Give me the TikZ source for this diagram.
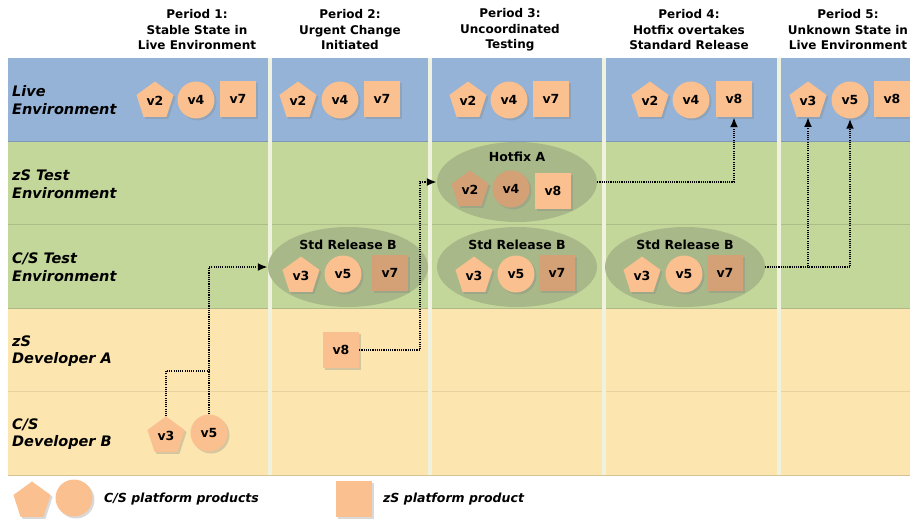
\documentclass[tikz,border=0pt]{standalone}
\usepackage{fontspec}
\setsansfont{DejaVu Sans}
\usetikzlibrary{arrows.meta,shapes.geometric,shadows}

\definecolor{liveblue}{RGB}{149,179,215}
\definecolor{testgreen}{RGB}{196,215,155}
\definecolor{devyellow}{RGB}{252,229,174}
\definecolor{sepcream}{RGB}{238,242,222}
\definecolor{peach}{RGB}{250,192,144}
\definecolor{oldpeach}{RGB}{212,161,118}
\definecolor{relgreen}{RGB}{168,184,137}

\tikzset{
  header/.style={font=\sffamily\bfseries\fontsize{12}{15.5}\selectfont, align=center},
  rowlabel/.style={font=\sffamily\bfseries\itshape\fontsize{14.5}{17.5}\selectfont, align=left, anchor=west, inner sep=0pt},
  prod/.style={fill=peach, inner sep=0pt, font=\sffamily\bfseries\fontsize{12.5}{14}\selectfont,
    drop shadow={opacity=0.3, shadow xshift=2pt, shadow yshift=-2pt}},
  pent/.style={prod, regular polygon, regular polygon sides=5, minimum size=39pt},
  circ/.style={prod, circle, minimum size=37pt},
  sqr/.style={prod, rectangle, minimum size=36pt},
  aged/.style={fill=oldpeach},
  release/.style={ellipse, fill=relgreen, minimum width=160pt, minimum height=80pt, inner sep=0pt},
  grouptitle/.style={font=\sffamily\bfseries\fontsize{12.5}{14}\selectfont},
  legendtext/.style={font=\sffamily\bfseries\itshape\fontsize{12.5}{14}\selectfont, anchor=west, inner sep=0pt},
  flow/.style={->, line width=2.2pt, dash pattern=on 1.1pt off 1.1pt},
  link/.style={line width=2.2pt, dash pattern=on 1.1pt off 1.1pt},
}

\begin{document}
\begin{tikzpicture}[x=1pt, y=-1pt, >={Latex[length=10pt,width=8pt]}]
  \useasboundingbox (0,0) rectangle (910,519);

  % Bands for the environments
  \fill[liveblue] (8,58) rectangle (910,141);
  \fill[testgreen] (8,141) rectangle (910,308);
  \fill[devyellow] (8,308) rectangle (910,475);
  \draw[line width=1pt, liveblue!85!black] (8,141) -- (910,141);
  \draw[line width=1pt, testgreen!88!black] (8,224.5) -- (910,224.5);
  \draw[line width=1pt, testgreen!85!devyellow!85!black] (8,308) -- (910,308);
  \draw[line width=0.8pt, devyellow!92!black] (8,391) -- (910,391);
  \draw[line width=0.8pt, devyellow!85!black] (8,475) -- (910,475);

  % Period separators
  \fill[sepcream] (268,58) rectangle (272,475);
  \fill[sepcream] (428,58) rectangle (432,475);
  \fill[sepcream] (602,58) rectangle (606,475);
  \fill[sepcream] (777,58) rectangle (781,475);

  % Period headings
  \node[header] (per1) at (197,30) {Period 1:\\Stable State in\\Live Environment};
  \node[header] (per2) at (350,30) {Period 2:\\Urgent Change\\Initiated};
  \node[header] (per3) at (510,30) {Period 3:\\Uncoordinated\\Testing};
  \node[header] (per4) at (689,30) {Period 4:\\Hotfix overtakes\\Standard Release};
  \node[header] (per5) at (848,30) {Period 5:\\Unknown State in\\Live Environment};

  % Environment names
  \node[rowlabel] (live) at (12,100) {Live\\Environment};
  \node[rowlabel] (zstest) at (12,184) {zS Test\\Environment};
  \node[rowlabel] (cstest) at (12,267) {C/S Test\\Environment};
  \node[rowlabel] (zsdev) at (12,351) {zS\\Developer A};
  \node[rowlabel] (csdev) at (12,434) {C/S\\Developer B};

  % Live environment
  \node[pent] (p1v2) at (155,101) {v2};
  \node[circ] (p1v4) at (196,100) {v4};
  \node[sqr] (p1v7) at (238,99) {v7};
  \node[pent] (p2v2) at (298,101) {v2};
  \node[circ] (p2v4) at (340,100) {v4};
  \node[sqr] (p2v7) at (382,99) {v7};
  \node[pent] (p3v2) at (468,101) {v2};
  \node[circ] (p3v4) at (509,100) {v4};
  \node[sqr] (p3v7) at (551,99) {v7};
  \node[pent] (p4v2) at (650,101) {v2};
  \node[circ] (p4v4) at (691,100) {v4};
  \node[sqr] (p4v8) at (734,99) {v8};
  \node[pent] (p5v3) at (808,101) {v3};
  \node[circ] (p5v5) at (850,100) {v5};
  \node[sqr] (p5v8) at (892,99) {v8};

  % Releases under test
  \node[release] (hotfix) at (517,182) {};
  \node[grouptitle] (hotfixname) at (517,157) {Hotfix A};
  \node[pent, aged] (hfv2) at (470,190) {v2};
  \node[circ, aged] (hfv4) at (511,189) {v4};
  \node[sqr] (hfv8) at (553,191) {v8};

  \node[release] (relp2) at (348,267) {};
  \node[grouptitle] (relp2name) at (348,245) {Std Release B};
  \node[pent] (r2v3) at (301,276) {v3};
  \node[circ] (r2v5) at (343,274) {v5};
  \node[sqr, aged] (r2v7) at (390,273) {v7};

  \node[release] (relp3) at (517,267) {};
  \node[grouptitle] (relp3name) at (517,245) {Std Release B};
  \node[pent] (r3v3) at (474,276) {v3};
  \node[circ] (r3v5) at (516,274) {v5};
  \node[sqr, aged] (r3v7) at (557,273) {v7};

  \node[release] (relp4) at (685,267) {};
  \node[grouptitle] (relp4name) at (685,245) {Std Release B};
  \node[pent] (r4v3) at (642,276) {v3};
  \node[circ] (r4v5) at (684,274) {v5};
  \node[sqr, aged] (r4v7) at (725,273) {v7};

  % Developers
  \node[sqr] (zsv8) at (341,350) {v8};
  \node[pent] (csv3) at (166,436) {v3};
  \node[circ] (csv5) at (209,433) {v5};

  % Moves between environments
  \coordinate (mergecs) at (209,371);
  \coordinate (risezs) at (420,0);
  \draw[link] (csv3.north) |- (mergecs);
  \draw[flow] (csv5.north) |- (relp2.west);
  \draw[flow] (zsv8.east) -- (zsv8.east -| risezs) |- (hotfix.west);
  \draw[flow] (hotfix.east) -| (p4v8.south);
  \draw[flow] (relp4.east) -| (p5v3.south);
  \draw[flow] (relp4.east) -| (p5v5.south);

  % Legend
  \node[pent] (legpent) at (32,501) {};
  \node[circ] (legcirc) at (74,498) {};
  \node[legendtext] (legcs) at (104,499) {C/S platform products};
  \node[sqr] (legsqr) at (354,499) {};
  \node[legendtext] (legzs) at (383,499) {zS platform product};
\end{tikzpicture}
\end{document}
